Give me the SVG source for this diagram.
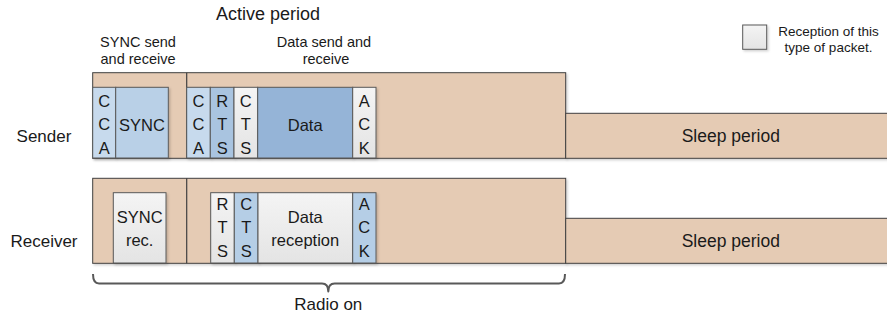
<svg xmlns="http://www.w3.org/2000/svg" width="887" height="320" viewBox="0 0 887 320">
<defs>
<filter id="sh" x="-10%" y="-10%" width="130%" height="130%">
<feDropShadow dx="1.5" dy="1.5" stdDeviation="0.8" flood-color="#000" flood-opacity="0.18"/>
</filter>
<linearGradient id="gray" x1="0" y1="0" x2="0" y2="1">
<stop offset="0" stop-color="#f4f4f4"/><stop offset="1" stop-color="#e4e4e4"/>
</linearGradient>
</defs>
<style>
text{font-family:"Liberation Sans",Arial,sans-serif;fill:#1a1a1a;}
.lbl{font-size:17px;}
.hd{font-size:14.5px;text-anchor:middle;}
.pk{font-size:16.5px;text-anchor:middle;}
.mid{text-anchor:middle;}
.period{fill:#e5cbb4;stroke:#404040;stroke-width:1;filter:url(#sh);}
.sep{stroke:#404040;stroke-width:1.2;fill:none;}
.p{stroke:#595959;stroke-width:1;filter:url(#sh);}
.rx{fill:url(#gray);}
.b1{fill:#c7daed;}
.b2{fill:#b9d0e7;}
.b3{fill:#a9c4e0;}
.b4{fill:#95b4d7;}
.b5{fill:#b5cee6;}
.brace{fill:none;stroke:#595959;stroke-width:2;stroke-linejoin:round;}
</style>

<g id="titles">
<text x="268" y="20" class="mid" style="font-size:18px">Active period</text>
<text x="138" y="46.5" class="hd">SYNC send</text>
<text x="138" y="64" class="hd">and receive</text>
<text x="324" y="46.5" class="hd">Data send and</text>
<text x="326" y="64" class="hd">receive</text>
</g>

<g id="legend">
<rect x="742.7" y="25" width="24" height="24.3" class="p rx"/>
<text x="828.5" y="35.5" class="mid" style="font-size:13.5px">Reception of this</text>
<text x="828.5" y="52" class="mid" style="font-size:13.5px">type of packet.</text>
</g>

<g id="sender">
<text x="44" y="141.7" class="lbl mid">Sender</text>
<rect x="92.7" y="72.7" width="473" height="85.6" class="period"/>
<line x1="186.7" y1="72.7" x2="186.7" y2="158.3" class="sep"/>
<rect x="565.7" y="113.3" width="325" height="45" class="period"/>
<text x="730.8" y="141.7" class="lbl mid" style="font-size:17.5px">Sleep period</text>
</g>

<g id="sender-packets">
<g id="s-cca1"><rect x="92.7" y="87.3" width="23" height="70.7" class="p b1"/>
<text x="104.2" y="107" class="pk">C</text><text x="104.2" y="130.3" class="pk">C</text><text x="104.2" y="153.6" class="pk">A</text></g>
<g id="s-sync"><rect x="115.7" y="87.3" width="52.6" height="70.7" class="p b2"/>
<text x="142" y="130.5" class="pk">SYNC</text></g>
<g id="s-cca2"><rect x="186.7" y="87.3" width="23.6" height="70.7" class="p b1"/>
<text x="198.5" y="107" class="pk">C</text><text x="198.5" y="130.3" class="pk">C</text><text x="198.5" y="153.6" class="pk">A</text></g>
<g id="s-rts"><rect x="210.3" y="87.3" width="23.7" height="70.7" class="p b3"/>
<text x="222.2" y="107" class="pk">R</text><text x="222.2" y="130.3" class="pk">T</text><text x="222.2" y="153.6" class="pk">S</text></g>
<g id="s-cts"><rect x="234" y="87.3" width="23.7" height="70.7" class="p rx"/>
<text x="245.8" y="107" class="pk">C</text><text x="245.8" y="130.3" class="pk">T</text><text x="245.8" y="153.6" class="pk">S</text></g>
<g id="s-data"><rect x="257.7" y="87.3" width="95" height="70.7" class="p b4"/>
<text x="305.2" y="130.5" class="pk">Data</text></g>
<g id="s-ack"><rect x="352.7" y="87.3" width="23.3" height="70.7" class="p rx"/>
<text x="364.3" y="107" class="pk">A</text><text x="364.3" y="130.3" class="pk">C</text><text x="364.3" y="153.6" class="pk">K</text></g>
</g>

<g id="receiver">
<text x="44" y="246.7" class="lbl mid">Receiver</text>
<rect x="92.7" y="178.3" width="473" height="85" class="period"/>
<line x1="186.7" y1="178.3" x2="186.7" y2="263.3" class="sep"/>
<rect x="565.7" y="218.3" width="325" height="45" class="period"/>
<text x="730.8" y="246.7" class="lbl mid" style="font-size:17.5px">Sleep period</text>
</g>

<g id="receiver-packets">
<g id="r-sync"><rect x="113.3" y="192.7" width="52.7" height="70.3" class="p rx"/>
<text x="139.7" y="223.3" class="pk">SYNC</text><text x="139.7" y="246" class="pk">rec.</text></g>
<g id="r-rts"><rect x="210.7" y="192.7" width="23.6" height="70.3" class="p rx"/>
<text x="222.5" y="209.5" class="pk">R</text><text x="222.5" y="233" class="pk">T</text><text x="222.5" y="256.5" class="pk">S</text></g>
<g id="r-cts"><rect x="234.3" y="192.7" width="23.7" height="70.3" class="p b5"/>
<text x="246.2" y="209.5" class="pk">C</text><text x="246.2" y="233" class="pk">T</text><text x="246.2" y="256.5" class="pk">S</text></g>
<g id="r-data"><rect x="258" y="192.7" width="94.7" height="70.3" class="p rx"/>
<text x="305.3" y="223.3" class="pk">Data</text><text x="305.3" y="246" class="pk">reception</text></g>
<g id="r-ack"><rect x="352.7" y="192.7" width="23.3" height="70.3" class="p b5"/>
<text x="364.3" y="209.5" class="pk">A</text><text x="364.3" y="233" class="pk">C</text><text x="364.3" y="256.5" class="pk">K</text></g>
</g>

<g id="connectors">
<path class="brace" d="M93 274 Q93 283.5 99 283.5 L322 283.5 Q328.3 283.5 328.3 291.5 Q328.3 283.5 334.6 283.5 L559 283.5 Q565 283.5 565 274"/>
</g>
<g id="radio-on">
<text x="328.3" y="310" class="lbl mid">Radio on</text>
</g>
</svg>
